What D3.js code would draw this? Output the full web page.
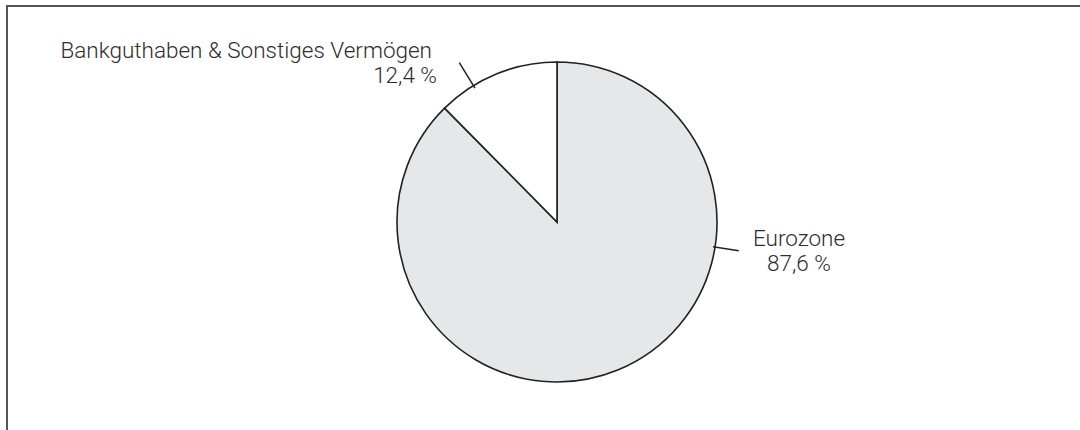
<!DOCTYPE html>
<html>
<head>
<meta charset="utf-8">
<script src="https://cdn.jsdelivr.net/npm/d3@7"></script>
<style>
  html, body { margin: 0; padding: 0; background: #fff; }
  svg { display: block; }
  .lbl { font-family: Roboto, "Liberation Sans", sans-serif; font-weight: 300; font-size: 22.5px; fill: #2e2e2e; }
</style>
</head>
<body>
<svg width="1080" height="430"></svg>
<script>
// data
var categories = ["Eurozone", "Bankguthaben & Sonstiges Vermögen"];
var values = [87.6, 12.4];
var valueLabels = ["87,6 %", "12,4 %"];
var fills = ["#e6e7e8", "#ffffff"];

var svg = d3.select("svg"),
    cx = 557, cy = 222, radius = 160;

// frame (top + left only)
svg.append("path")
    .attr("d", "M7,431V6H1080")
    .attr("fill", "none")
    .attr("stroke", "#555")
    .attr("stroke-width", 2);

var g = svg.append("g").attr("transform", "translate(" + cx + "," + cy + ")");

var pie = d3.pie().sort(null).value(function(d) { return d; });
var arcs = pie(values);
var arc = d3.arc().innerRadius(0).outerRadius(radius);

g.selectAll(".slice")
    .data(arcs)
  .enter().append("path")
    .attr("class", "slice")
    .attr("d", arc)
    .attr("fill", function(d, i) { return fills[i]; })
    .attr("stroke", "#222")
    .attr("stroke-width", 1.6)
    .attr("stroke-linejoin", "miter");

// leader ticks - angles picked by eye (degrees from 12 o'clock)
var tickAngle = [99, -31.5];
var tickR = [[158, 184], [157, 187]];
function pt(a, r) {
  var t = a * Math.PI / 180;
  return [Math.sin(t) * r, -Math.cos(t) * r];
}
tickAngle.forEach(function(a, i) {
  var p0 = pt(a, tickR[i][0]), p1 = pt(a, tickR[i][1]);
  g.append("line")
      .attr("x1", p0[0]).attr("y1", p0[1])
      .attr("x2", p1[0]).attr("y2", p1[1])
      .attr("stroke", "#222")
      .attr("stroke-width", 1.5);
});

// labels
var lblPos = [
  {x: 799, y: 246, anchor: "middle", dx: 0},
  {x: 432, y: 58, anchor: "end", dx: 5}
];
categories.forEach(function(c, i) {
  var p = lblPos[i];
  var t = svg.append("text")
      .attr("class", "lbl")
      .attr("text-anchor", p.anchor);
  t.append("tspan").attr("x", p.x).attr("y", p.y).text(c);
  t.append("tspan").attr("x", p.x + p.dx).attr("y", p.y + 25).text(valueLabels[i]);
});
</script>
</body>
</html>
